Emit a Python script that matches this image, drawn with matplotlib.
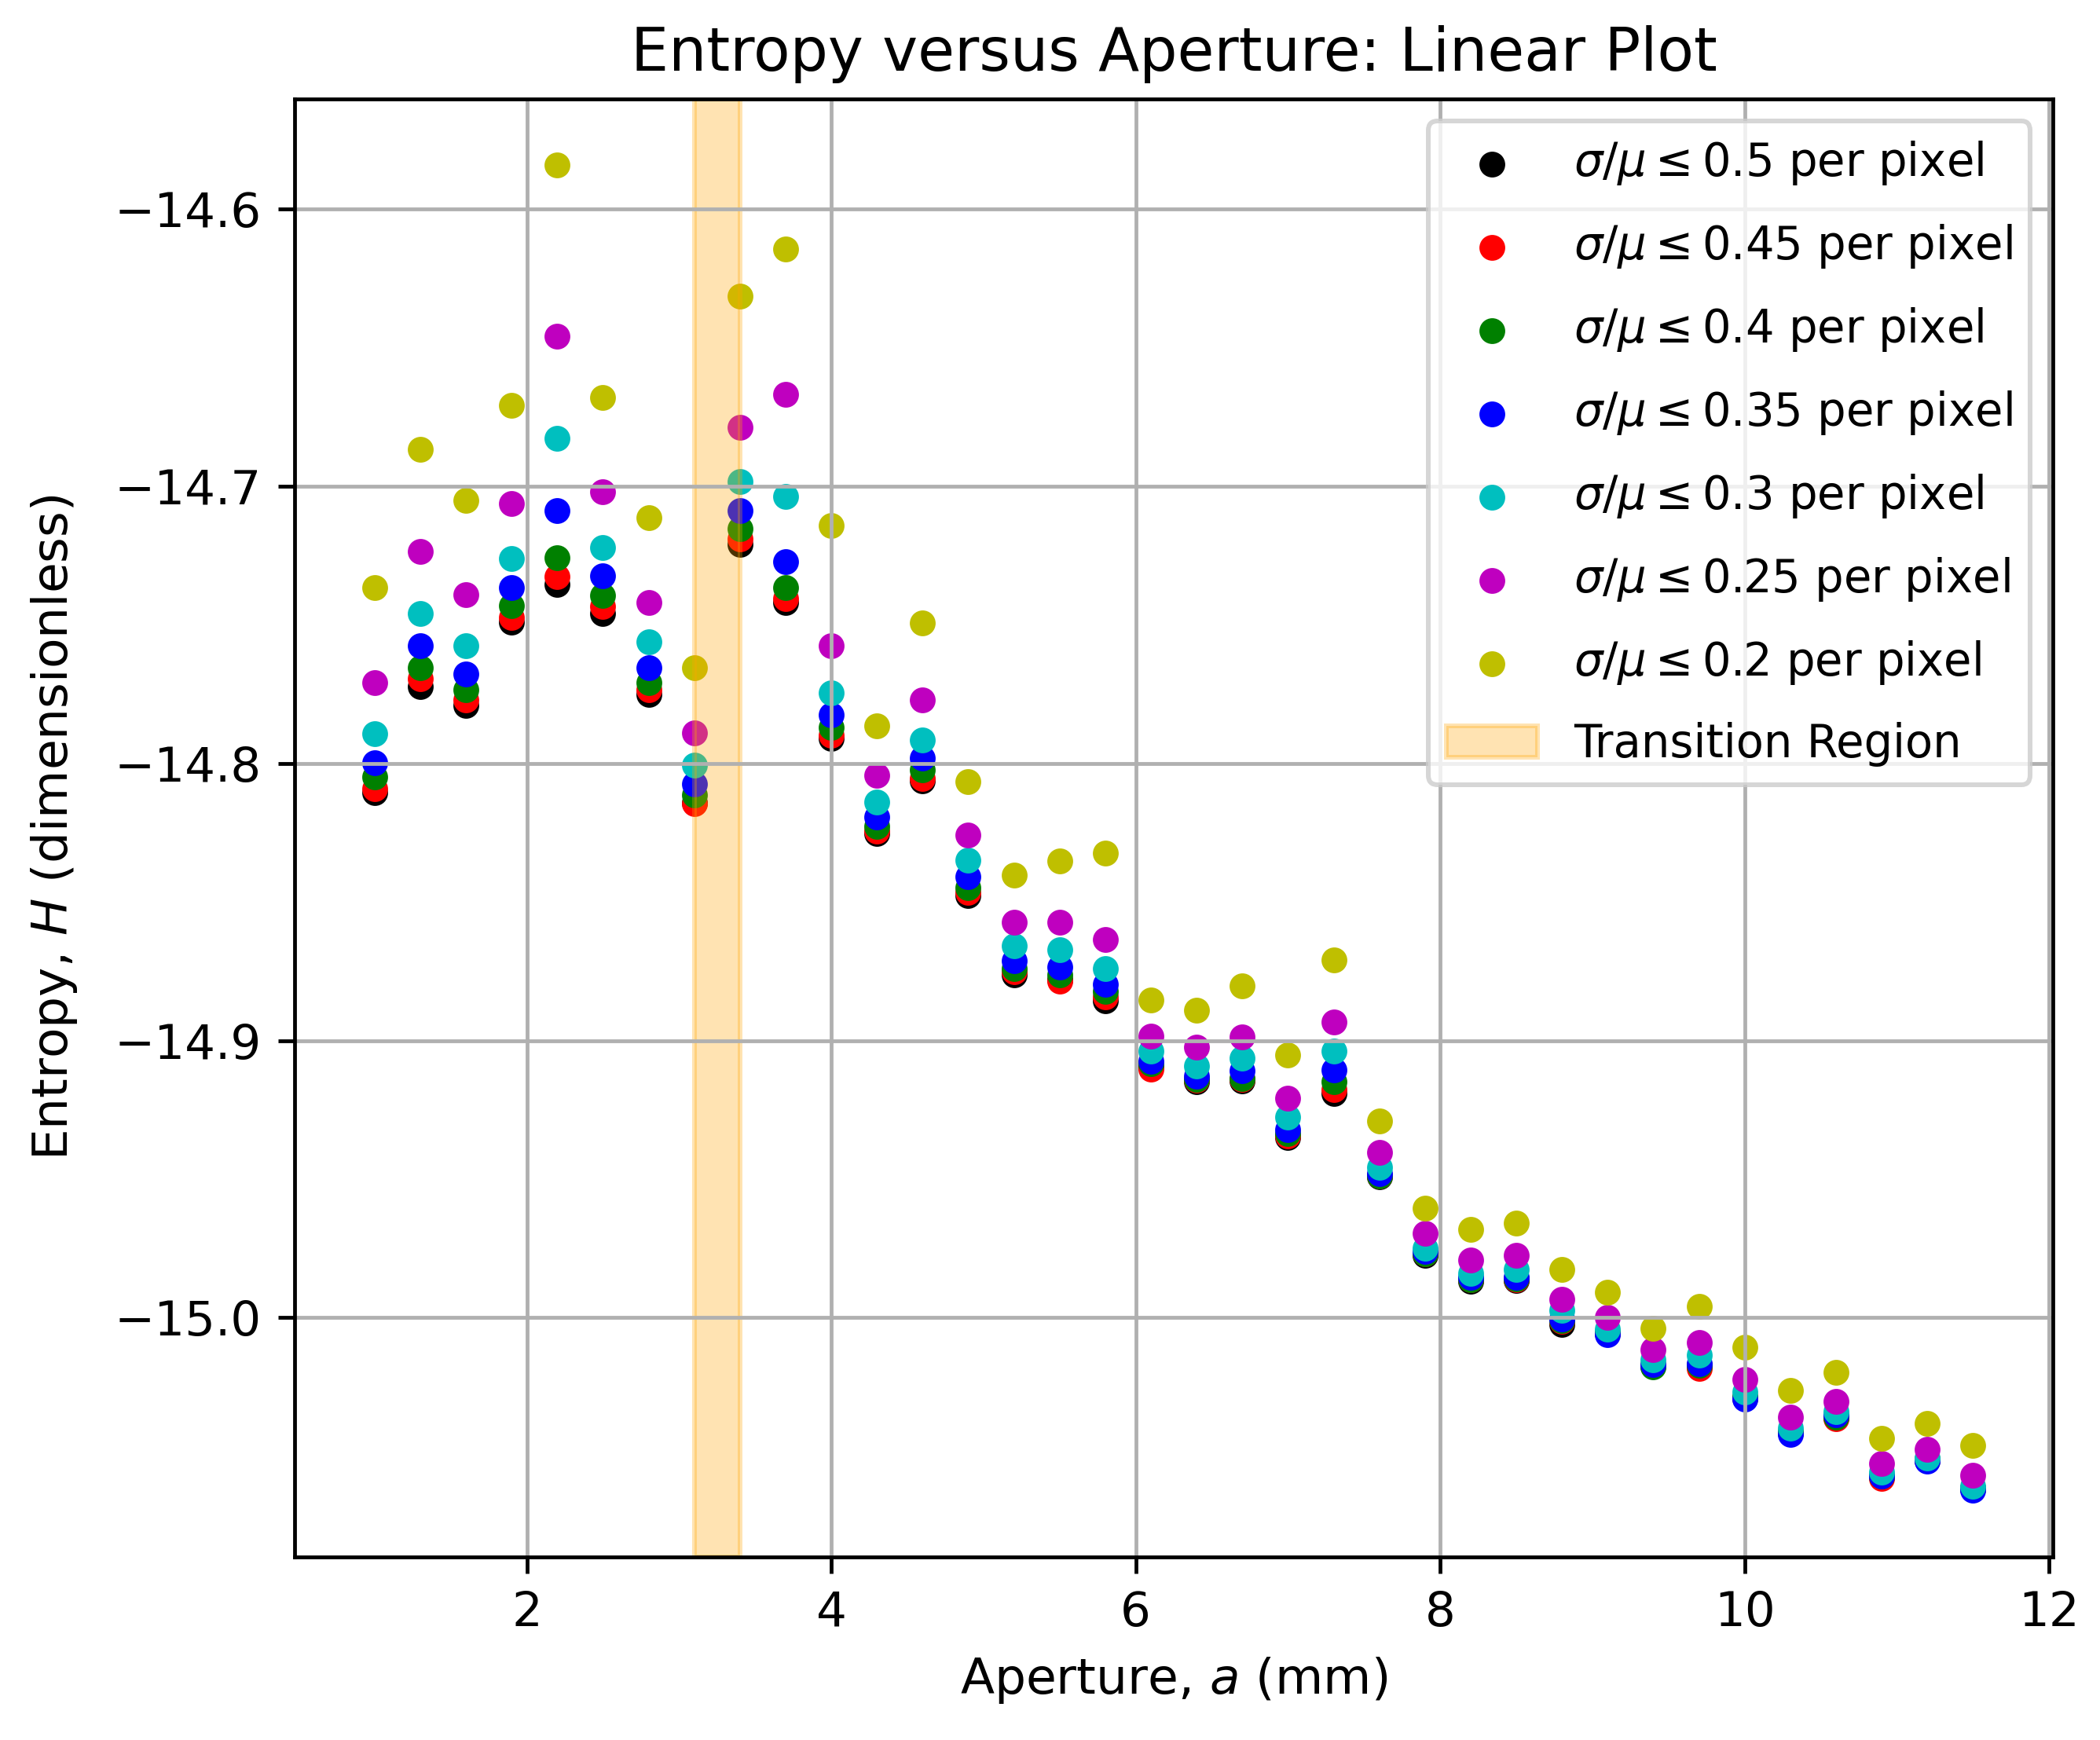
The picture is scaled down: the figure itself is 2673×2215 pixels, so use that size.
import matplotlib
matplotlib.use("Agg")
import matplotlib.pyplot as plt

aperture = [1.0, 1.3, 1.6, 1.9, 2.2, 2.5, 2.8, 3.1, 3.4, 3.7, 4.0, 4.3,
            4.6, 4.9, 5.2, 5.5, 5.8, 6.1, 6.4, 6.7, 7.0, 7.3, 7.6, 7.9,
            8.2, 8.5, 8.8, 9.1, 9.4, 9.7, 10.0, 10.3, 10.6, 10.9, 11.2, 11.5]

H_050 = [-14.8106, -14.7724, -14.7790, -14.7490, -14.7354, -14.7458, -14.7750, -14.8142,
         -14.7210, -14.7418, -14.7910, -14.8254, -14.8064, -14.8478, -14.8763, -14.8780,
         -14.8857, -14.9096, -14.9150, -14.9146, -14.9350, -14.9191, -14.9492, -14.9774,
         -14.9868, -14.9866, -15.0024, -15.0055, -15.0175, -15.0175, -15.0290, -15.0415,
         -15.0360, -15.0575, -15.0514, -15.0618]
H_045 = [-14.8090, -14.7694, -14.7770, -14.7474, -14.7326, -14.7434, -14.7734, -14.8144,
         -14.7190, -14.7404, -14.7898, -14.8244, -14.8054, -14.8466, -14.8751, -14.8786,
         -14.8843, -14.9104, -14.9144, -14.9140, -14.9343, -14.9177, -14.9488, -14.9770,
         -14.9864, -14.9862, -15.0012, -15.0055, -15.0173, -15.0183, -15.0288, -15.0414,
         -15.0366, -15.0579, -15.0512, -15.0618]
H_040 = [-14.8050, -14.7654, -14.7734, -14.7430, -14.7258, -14.7394, -14.7708, -14.8114,
         -14.7154, -14.7364, -14.7870, -14.8228, -14.8024, -14.8447, -14.8739, -14.8763,
         -14.8824, -14.9083, -14.9140, -14.9136, -14.9337, -14.9150, -14.9490, -14.9770,
         -14.9862, -14.9860, -15.0010, -15.0052, -15.0177, -15.0172, -15.0285, -15.0412,
         -15.0358, -15.0572, -15.0512, -15.0616]
H_035 = [-14.7998, -14.7576, -14.7678, -14.7364, -14.7088, -14.7324, -14.7654, -14.8074,
         -14.7088, -14.7272, -14.7824, -14.8194, -14.7980, -14.8410, -14.8711, -14.8734,
         -14.8796, -14.9075, -14.9130, -14.9110, -14.9323, -14.9106, -14.9480, -14.9760,
         -14.9856, -14.9856, -15.0004, -15.0061, -15.0169, -15.0167, -15.0295, -15.0421,
         -15.0350, -15.0572, -15.0518, -15.0624]
H_030 = [-14.7892, -14.7458, -14.7574, -14.7260, -14.6826, -14.7220, -14.7560, -14.8006,
         -14.6984, -14.7036, -14.7746, -14.8138, -14.7914, -14.8349, -14.8659, -14.8673,
         -14.8739, -14.9039, -14.9093, -14.9063, -14.9276, -14.9039, -14.9459, -14.9750,
         -14.9841, -14.9825, -14.9974, -15.0041, -15.0152, -15.0136, -15.0268, -15.0400,
         -15.0339, -15.0559, -15.0506, -15.0608]
H_025 = [-14.7708, -14.7234, -14.7390, -14.7062, -14.6458, -14.7020, -14.7418, -14.7890,
         -14.6786, -14.6668, -14.7574, -14.8044, -14.7770, -14.8259, -14.8572, -14.8572,
         -14.8636, -14.8984, -14.9024, -14.8988, -14.9207, -14.8933, -14.9404, -14.9695,
         -14.9791, -14.9776, -14.9933, -14.9998, -15.0116, -15.0091, -15.0222, -15.0360,
         -15.0303, -15.0526, -15.0476, -15.0569]
H_020 = [-14.7366, -14.6866, -14.7050, -14.6708, -14.5840, -14.6680, -14.7114, -14.7654,
         -14.6314, -14.6144, -14.7140, -14.7864, -14.7494, -14.8066, -14.8402, -14.8351,
         -14.8325, -14.8854, -14.8892, -14.8803, -14.9053, -14.8709, -14.9289, -14.9604,
         -14.9683, -14.9659, -14.9827, -14.9909, -15.0039, -14.9959, -15.0106, -15.0262,
         -15.0197, -15.0435, -15.0382, -15.0461]

thresholds = ["0.5", "0.45", "0.4", "0.35", "0.3", "0.25", "0.2"]
series = [H_050, H_045, H_040, H_035, H_030, H_025, H_020]
colors = ["k", "r", "g", "b", "c", "m", "y"]

transition = (3.1, 3.4)

plt.rcParams["xtick.labelsize"] = 10.2
plt.rcParams["ytick.labelsize"] = 10.2

fig = plt.figure(figsize=(2673 / 432, 2215 / 432), dpi=432)
ax = fig.add_subplot(111)
fig.subplots_adjust(left=0.1403, right=0.9776, top=0.9433, bottom=0.1053)

for t, h, c in zip(thresholds, series, colors):
    ax.scatter(aperture, h, s=20, color=c,
               label=r"$\sigma/\mu \leq$" + t + " per pixel")

ax.axvspan(transition[0], transition[1], color="orange", alpha=0.3,
           label="Transition Region")

ax.set_title("Entropy versus Aperture: Linear Plot", fontsize=12.7)
ax.set_xlabel("Aperture, $a$ (mm)", fontsize=10.5)
ax.set_ylabel("Entropy, $H$ (dimensionless)", fontsize=10.5, labelpad=7.5)
ax.grid(True)
ax.legend(loc="upper right", fontsize=9.6, labelspacing=0.78)

fig.savefig("out.png", dpi=432)
